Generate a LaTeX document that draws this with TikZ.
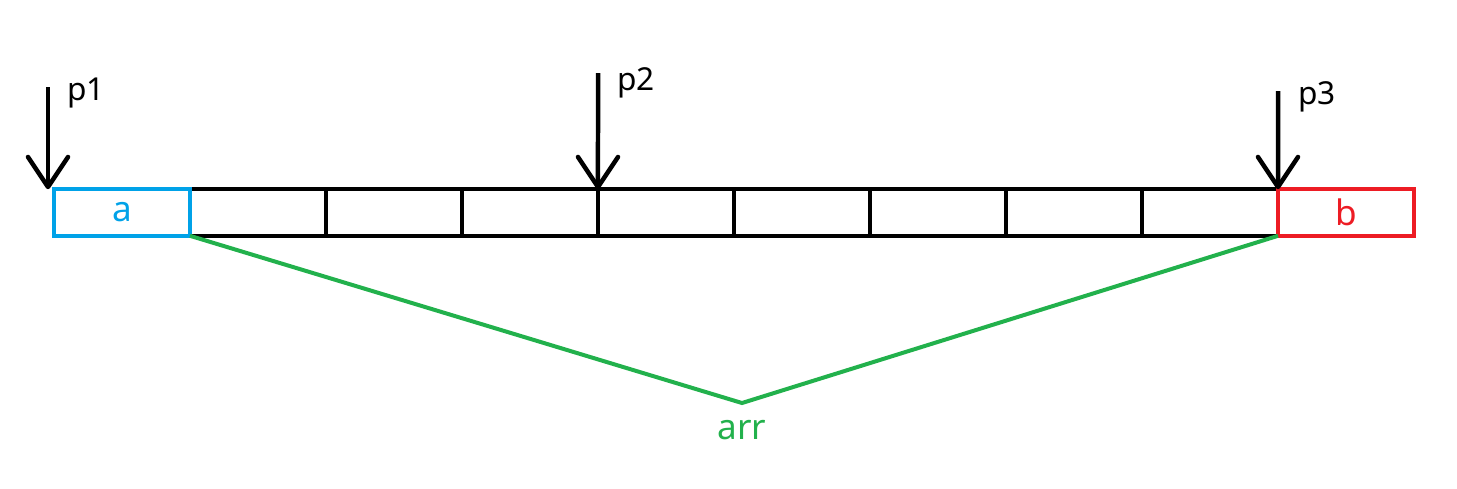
\documentclass[tikz,border=0pt]{standalone}
\usepackage{fontspec}
\setmainfont{Noto Sans}
\usetikzlibrary{arrows.meta}
\definecolor{pblue}{HTML}{00A2E8}
\definecolor{pred}{HTML}{ED1C24}
\definecolor{pgreen}{HTML}{22B14C}
\tikzset{
  cell/.style={draw=black, line width=0.09cm, inner sep=0pt, outer sep=0pt,
    minimum width=2.72cm, minimum height=0.932cm},
  ptr/.style={line width=0.09cm, -{Straight Barb[length=0.6cm,width=0.8cm,round]}},
  plab/.style={inner sep=0pt, anchor=base west, font=\fontsize{18}{21}\selectfont},
  big/.style={font=\fontsize{20}{24}\selectfont},
}
\begin{document}
\begin{tikzpicture}[x=0.02cm, y=-0.02cm]
\useasboundingbox (0,0) rectangle (1457,488);
% cells
\foreach \i in {1,...,8} \node[cell] (c\i) at ({122+136*\i},212.5) {};
\node[cell, draw=pblue, line width=0.08cm, text=pblue, big] (a) at (122,212.5) {a};
\node[cell, draw=pred, line width=0.09cm, text=pred, big] (b) at (1346,212.5) {b};
% pointers
\coordinate (s1) at (48,87);
\coordinate (s2) at (598,73);
\coordinate (s3) at (1278,91);
\draw[ptr] (s1) -- (s1 |- a.north);
\draw[ptr] (s2) -- (c3.north east);
\draw[ptr] (s3) -- (c8.north east);
\node[plab] (p1) at (67,100) {p1};
\node[plab] (p2) at (617,90) {p2};
\node[plab] (p3) at (1298,104) {p3};
% brace
\coordinate (v) at (742,403);
\draw[pgreen, line width=0.08cm] (a.south east) -- (v) -- (b.south west);
\node[big, text=pgreen, anchor=base, inner sep=0pt] (arr) at (742,439) {arr};
\end{tikzpicture}
\end{document}
